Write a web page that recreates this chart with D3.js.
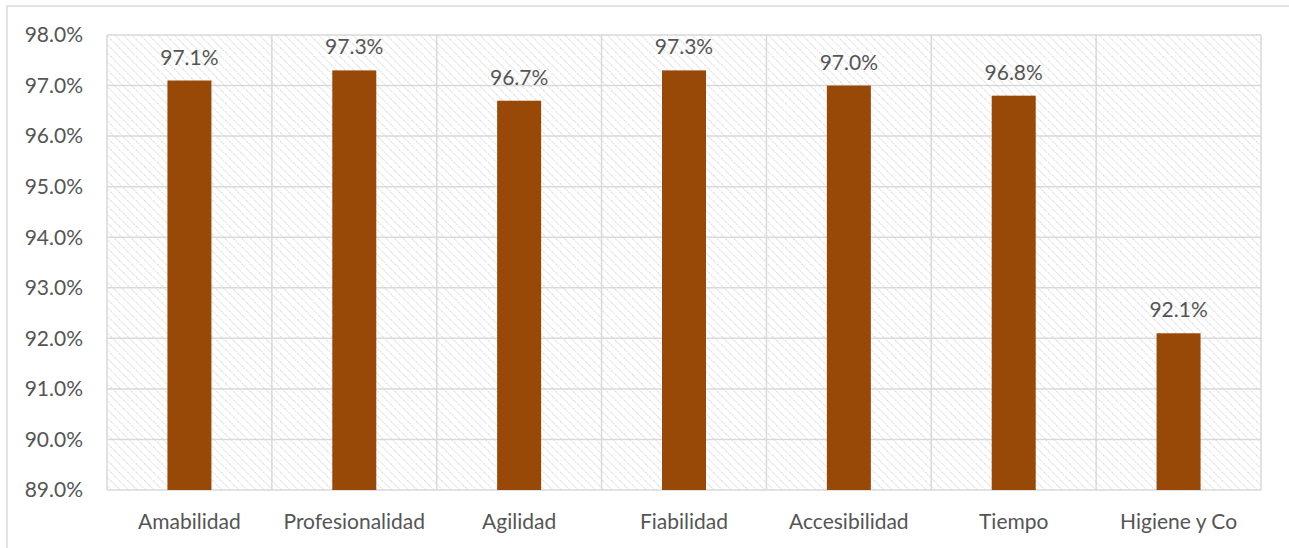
<!DOCTYPE html>
<html>
<head>
<meta charset="utf-8">
<script src="https://cdn.jsdelivr.net/npm/d3@7"></script>
<style>
  body { margin: 0; background: #fff; }
  text { font-family: Lato, "Open Sans", sans-serif; fill: #555; }
</style>
</head>
<body>
<script>
var categories = ["Amabilidad", "Profesionalidad", "Agilidad", "Fiabilidad", "Accesibilidad", "Tiempo", "Higiene y Co"];
var values = [97.1, 97.3, 96.7, 97.3, 97.0, 96.8, 92.1];
var yTicks = [89, 90, 91, 92, 93, 94, 95, 96, 97, 98];

var W = 1289, H = 548;
var margin = {top: 35, right: 28, bottom: 58, left: 107};
var width = W - margin.left - margin.right;
var height = H - margin.top - margin.bottom;

var svg = d3.select("body").append("svg")
    .attr("width", W)
    .attr("height", H);

// hatch del fondo
var defs = svg.append("defs");
var pat = defs.append("pattern")
    .attr("id", "hatch")
    .attr("patternUnits", "userSpaceOnUse")
    .attr("width", 6)
    .attr("height", 6)
    .attr("patternTransform", "rotate(45)");
pat.append("rect").attr("width", 6).attr("height", 6).attr("fill", "#fff");
pat.append("line")
    .attr("x1", 0).attr("y1", 0).attr("x2", 6).attr("y2", 0)
    .attr("stroke", "#cfcfcf")
    .attr("stroke-width", 1.6)
    .attr("stroke-dasharray", "1.5,1");

// borde exterior
svg.append("rect")
    .attr("x", 7).attr("y", 6)
    .attr("width", W).attr("height", H)
    .attr("fill", "none")
    .attr("stroke", "#d9d9d9")
    .attr("stroke-width", 1.5);

var g = svg.append("g")
    .attr("transform", "translate(" + margin.left + "," + margin.top + ")");

var x = d3.scaleBand().domain(categories).range([0, width]);
var y = d3.scaleLinear().domain([89, 98]).range([height, 0]);

g.append("rect")
    .attr("width", width).attr("height", height)
    .attr("fill", "url(#hatch)");

// lineas de la rejilla
g.selectAll(".hgrid").data(yTicks).enter().append("line")
    .attr("x1", 0).attr("x2", width)
    .attr("y1", function(d){ return y(d); })
    .attr("y2", function(d){ return y(d); })
    .attr("stroke", "#d9d9d9").attr("stroke-width", 1.5);

var bounds = categories.map(function(c){ return x(c); }).concat([width]);
g.selectAll(".vgrid").data(bounds).enter().append("line")
    .attr("x1", function(d){ return d; }).attr("x2", function(d){ return d; })
    .attr("y1", 0).attr("y2", height)
    .attr("stroke", "#d9d9d9").attr("stroke-width", 1.5);

// barras
var barW = 44;
g.selectAll(".bar").data(values).enter().append("rect")
    .attr("x", function(d, i){ return x(categories[i]) + x.bandwidth()/2 - barW/2; })
    .attr("y", function(d){ return y(d); })
    .attr("width", barW)
    .attr("height", function(d){ return height - y(d); })
    .attr("fill", "#984807");

// etiquetas
g.selectAll(".lbl").data(values).enter().append("text")
    .attr("x", function(d, i){ return x(categories[i]) + x.bandwidth()/2; })
    .attr("y", function(d){ return y(d) - 16; })
    .attr("text-anchor", "middle")
    .style("font-size", "21px")
    .text(function(d){ return d.toFixed(1) + "%"; });

// eje y
g.selectAll(".ytick").data(yTicks).enter().append("text")
    .attr("x", -24)
    .attr("y", function(d){ return y(d); })
    .attr("dy", "0.35em")
    .attr("text-anchor", "end")
    .style("font-size", "21px")
    .text(function(d){ return d.toFixed(1) + "%"; });

// eje x
g.selectAll(".xtick").data(categories).enter().append("text")
    .attr("x", function(d){ return x(d) + x.bandwidth()/2; })
    .attr("y", height + 39)
    .attr("text-anchor", "middle")
    .style("font-size", "21px")
    .text(function(d){ return d; });
</script>
</body>
</html>
